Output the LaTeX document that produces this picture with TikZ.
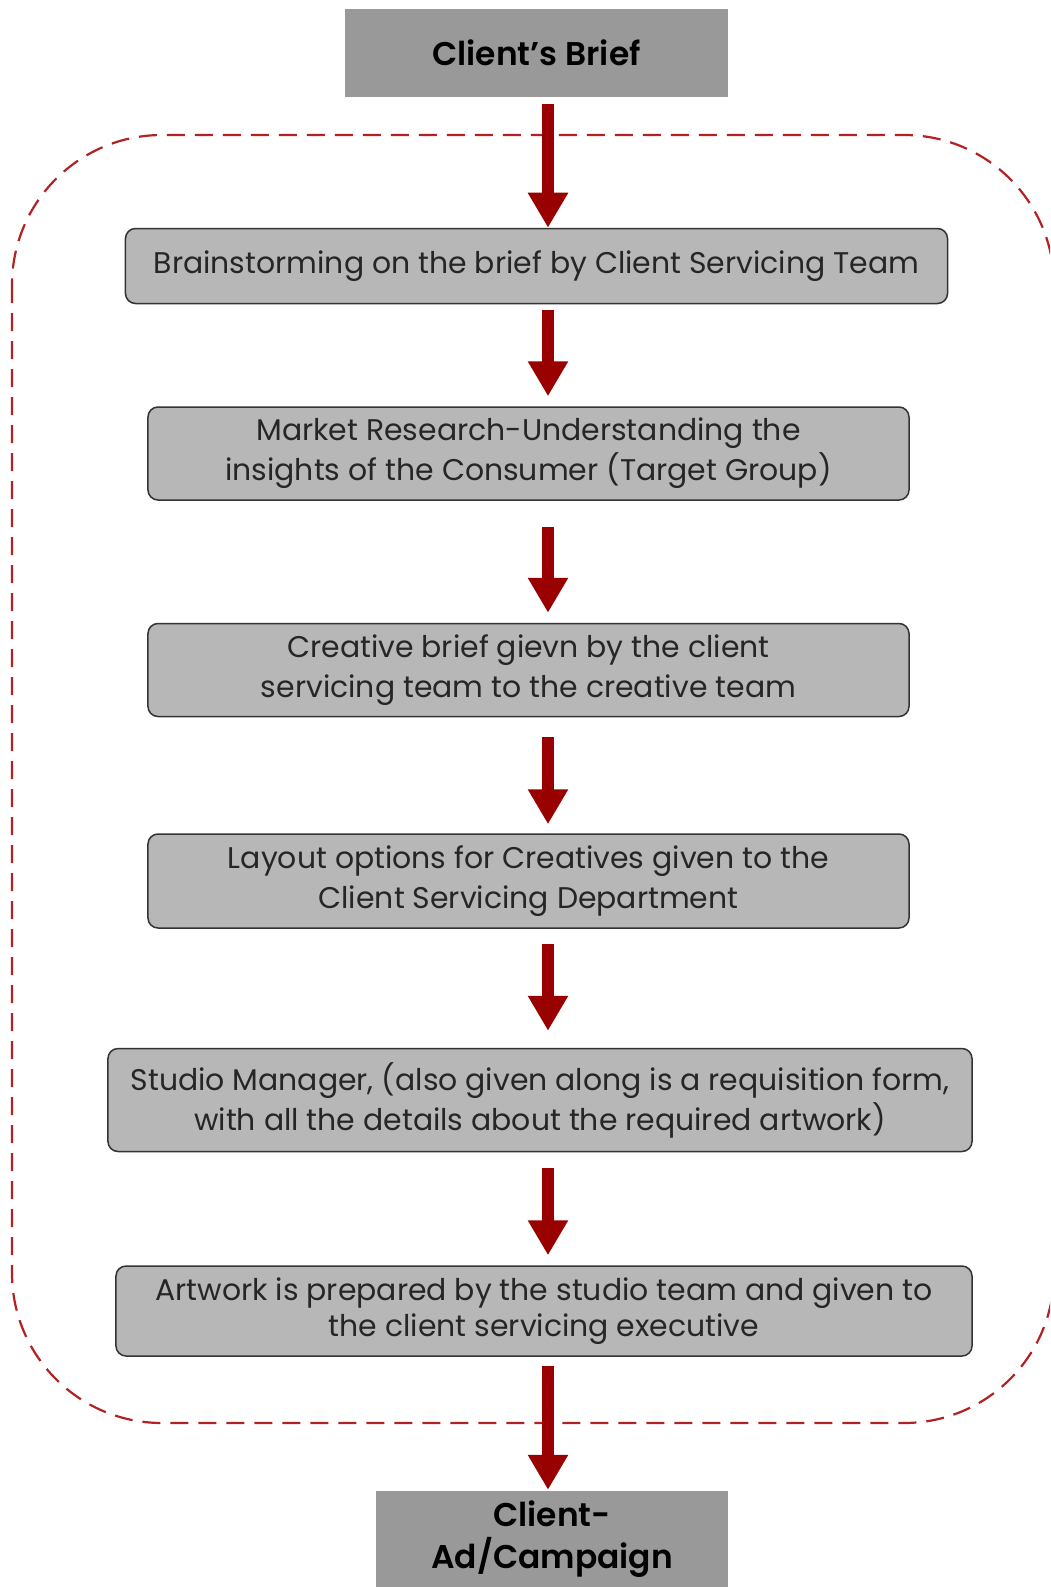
\documentclass[tikz,border=0pt]{standalone}
\usepackage{fontspec}
\setmainfont{Poppins}[BoldFont={Poppins SemiBold}]
\usetikzlibrary{positioning,arrows.meta}

\definecolor{boxgray}{HTML}{B7B7B7}
\definecolor{headgray}{HTML}{999999}
\definecolor{arrowred}{HTML}{990000}
\definecolor{loopred}{HTML}{B22222}

\tikzset{
  stepbox/.style={draw=black!80, line width=1.5bp, fill=boxgray, rounded corners=10bp,
    align=center, text=black!85, inner sep=0pt, font=\fontsize{30}{40}\selectfont},
  endbox/.style={fill=headgray, align=center, text=black, inner sep=0pt,
    font=\bfseries\fontsize{33}{42}\selectfont},
  flow/.style={arrowred, line width=12bp, -{Triangle[width=38bp,length=35bp]}},
  loop/.style={loopred, line width=2.2bp, dash pattern=on 18bp off 10bp, rounded corners=150bp},
}

\begin{document}
\begin{tikzpicture}[x=1bp, y=-1bp]
  \clip (0,0) rectangle (1050,1587);
  \fill[white] (0,0) rectangle (1050,1587);

  % agency loop around the inner steps
  \draw[loop] (12,135) rectangle (1054,1423);

  % start and end of the process
  \node[endbox, minimum width=383bp, minimum height=88bp] (brief) at (536.5,53) {Client’s Brief};
  \node[endbox, minimum width=352bp, minimum height=96bp] (campaign) at (552,1539) {Client-\\Ad/Campaign};

  % steps inside the agency
  \node[stepbox, minimum width=822bp, minimum height=75bp] (brain) at (536.5,266)
    {Brainstorming on the brief by Client Servicing Team};
  \node[stepbox, minimum width=761bp, minimum height=93bp] (market) at (528.5,453.5)
    {Market Research-Understanding the\\insights of the Consumer (Target Group)};
  \node[stepbox, minimum width=761bp, minimum height=93bp] (creative) at (528.5,670)
    {Creative brief gievn by the client\\servicing team to the creative team};
  \node[stepbox, minimum width=761bp, minimum height=94bp] (layout) at (528.5,881)
    {Layout options for Creatives given to the\\Client Servicing Department};
  \node[stepbox, minimum width=864bp, minimum height=103bp] (studio) at (540,1100)
    {Studio Manager, (also given along is a requisition form,\\with all the details about the required artwork)};
  \node[stepbox, minimum width=856bp, minimum height=90bp, font=\fontsize{30}{36}\selectfont] (artwork) at (544,1311)
    {Artwork is prepared by the studio team and given to\\the client servicing executive};

  % arrows down the middle
  \coordinate (spine) at (548,0);
  \foreach \from/\to/\gapa/\gapb in {brief/brain/7bp/0bp, brain/market/6bp/10bp,
      market/creative/26bp/10bp, creative/layout/20bp/9bp, layout/studio/15bp/17bp,
      studio/artwork/16bp/10bp, artwork/campaign/9bp/1bp}
    \draw[flow, shorten <=\gapa, shorten >=\gapb] (\from.south -| spine) -- (\to.north -| spine);
\end{tikzpicture}
\end{document}
